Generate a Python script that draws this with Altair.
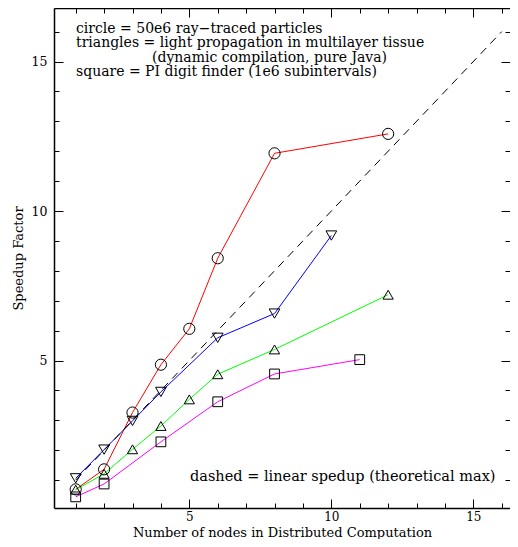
import altair as alt
import pandas as pd

# ---- data ----
circle_x = [1, 2, 3, 4, 5, 6, 8, 12]
circle_y = [0.69, 1.36, 3.26, 4.86, 6.06, 8.42, 11.93, 12.58]

tri_down_x = [1, 2, 3, 4, 6, 8, 10]
tri_down_y = [1.06, 2.02, 2.98, 3.95, 5.76, 6.57, 9.18]

tri_up_x = [1, 2, 3, 4, 5, 6, 8, 12]
tri_up_y = [0.68, 1.21, 2.03, 2.81, 3.70, 4.54, 5.37, 7.20]

square_x = [1, 2, 4, 6, 8, 11]
square_y = [0.44, 0.87, 2.28, 3.62, 4.55, 5.03]

linear_x = [1, 16]
linear_y = [1, 16]

series_names = ["circle", "triangle_down", "triangle_up", "square"]
line_colors = ["#ff0000", "#0000ff", "#00ff00", "#ff00ff"]
marker_shapes = ["circle", "triangle-down", "triangle-up", "square"]
marker_sizes = [125, 95, 95, 75]

major_ticks = [5, 10, 15]
minor_ticks = list(range(1, 17))

note_lines = [
    "circle = 50e6 ray\u2212traced particles",
    "triangles = light propagation in multilayer tissue",
    "(dynamic compilation, pure Java)",
    "square = PI digit finder (1e6 subintervals)",
]
dashed_note = "dashed = linear spedup (theoretical max)"

x_title = "Number of nodes in Distributed Computation"
y_title = "Speedup Factor"

# ---- tables ----
rows = []
for name, xs_, ys_ in zip(series_names,
                          [circle_x, tri_down_x, tri_up_x, square_x],
                          [circle_y, tri_down_y, tri_up_y, square_y]):
    for xv, yv in zip(xs_, ys_):
        rows.append({"series": name, "nodes": xv, "speedup": yv})
df = pd.DataFrame(rows)
lin = pd.DataFrame({"nodes": linear_x, "speedup": linear_y})

FONT = "DejaVu Serif"
xs = alt.Scale(domain=[0.236, 16.29], nice=False, zero=False)
ys = alt.Scale(domain=[0.067, 16.79], nice=False, zero=False)


def tick_axis(orient, values, size):
    return alt.Axis(orient=orient, values=values, labels=False, domain=False,
                    ticks=True, tickSize=size, offset=-size, tickColor="black",
                    tickWidth=1, title=None, grid=False)


# lines, carrying labelled axes (bottom / left) with domain lines
lines = alt.Chart(df).mark_line(strokeWidth=1).encode(
    x=alt.X("nodes:Q", scale=xs,
            axis=alt.Axis(orient="bottom", values=major_ticks, ticks=False, tickSize=0,
                          domain=True, domainColor="black", domainWidth=1.5,
                          labelPadding=3.5, labelFontSize=12,
                          title=x_title, titleFontSize=13,
                          titleBaseline="alphabetic", titleY=28.3, grid=False)),
    y=alt.Y("speedup:Q", scale=ys,
            axis=alt.Axis(orient="left", values=major_ticks, ticks=False, tickSize=0,
                          domain=True, domainColor="black", domainWidth=1.5,
                          labelPadding=7, labelFontSize=12.5,
                          title=y_title, titleFontSize=13,
                          titleBaseline="alphabetic", titleX=-32, grid=False)),
    color=alt.Color("series:N", scale=alt.Scale(domain=series_names, range=line_colors),
                    legend=None),
    detail="series:N",
)

dashed = alt.Chart(lin).mark_line(color="black", strokeWidth=1, strokeDash=[8, 6]).encode(
    x=alt.X("nodes:Q", scale=xs, axis=tick_axis("bottom", major_ticks, 9)),
    y=alt.Y("speedup:Q", scale=ys, axis=tick_axis("left", major_ticks, 9)),
)

markers = alt.Chart(df).mark_point(filled=False, color="black", strokeWidth=1, opacity=1).encode(
    x=alt.X("nodes:Q", scale=xs, axis=tick_axis("bottom", minor_ticks, 5)),
    y=alt.Y("speedup:Q", scale=ys, axis=tick_axis("left", minor_ticks, 5)),
    shape=alt.Shape("series:N", scale=alt.Scale(domain=series_names, range=marker_shapes),
                    legend=None),
    size=alt.Size("series:N", scale=alt.Scale(domain=series_names, range=marker_sizes),
                  legend=None),
)

top_major = alt.Chart(lin).mark_point(opacity=0).encode(
    x=alt.X("nodes:Q", scale=xs, axis=tick_axis("top", major_ticks, 9)),
    y=alt.Y("speedup:Q", scale=ys, axis=tick_axis("right", major_ticks, 9)),
)
top_minor = alt.Chart(lin).mark_point(opacity=0).encode(
    x=alt.X("nodes:Q", scale=xs, axis=tick_axis("top", minor_ticks, 5)),
    y=alt.Y("speedup:Q", scale=ys, axis=tick_axis("right", minor_ticks, 5)),
)
top_frame = alt.Chart(lin).mark_point(opacity=0).encode(
    x=alt.X("nodes:Q", scale=xs,
            axis=alt.Axis(orient="top", labels=False, ticks=False, domain=True,
                          domainColor="black", domainWidth=1.5, title=None, grid=False)),
    y=alt.Y("speedup:Q", scale=ys, axis=None),
)

note_pos = [(22, 20.5), (22, 35), (98, 49.5), (22, 64)]
notes = []
for line, (px, py) in zip(note_lines, note_pos):
    notes.append(
        alt.Chart(pd.DataFrame({"t": [line]})).mark_text(
            align="left", baseline="middle", font=FONT, fontSize=14, color="black"
        ).encode(text="t:N", x=alt.value(px), y=alt.value(py))
    )
notes.append(
    alt.Chart(pd.DataFrame({"t": [dashed_note]})).mark_text(
        align="left", baseline="middle", font=FONT, fontSize=14.5, color="black"
    ).encode(text="t:N", x=alt.value(136), y=alt.value(469))
)

chart = alt.layer(lines, dashed, markers, top_major, top_minor, top_frame, *notes).resolve_axis(
    x="independent", y="independent"
).properties(
    width=456, height=500,
    autosize=alt.AutoSizeParams(type="none"),
    padding={"left": 46, "top": 0, "right": 0, "bottom": 31},
).configure_view(stroke=None).configure_axis(
    labelFont=FONT, labelColor="black",
    titleFont=FONT, titleFontWeight="normal", titleColor="black",
)

chart.save("out.html", embed_options={"renderer": "svg", "actions": False})
